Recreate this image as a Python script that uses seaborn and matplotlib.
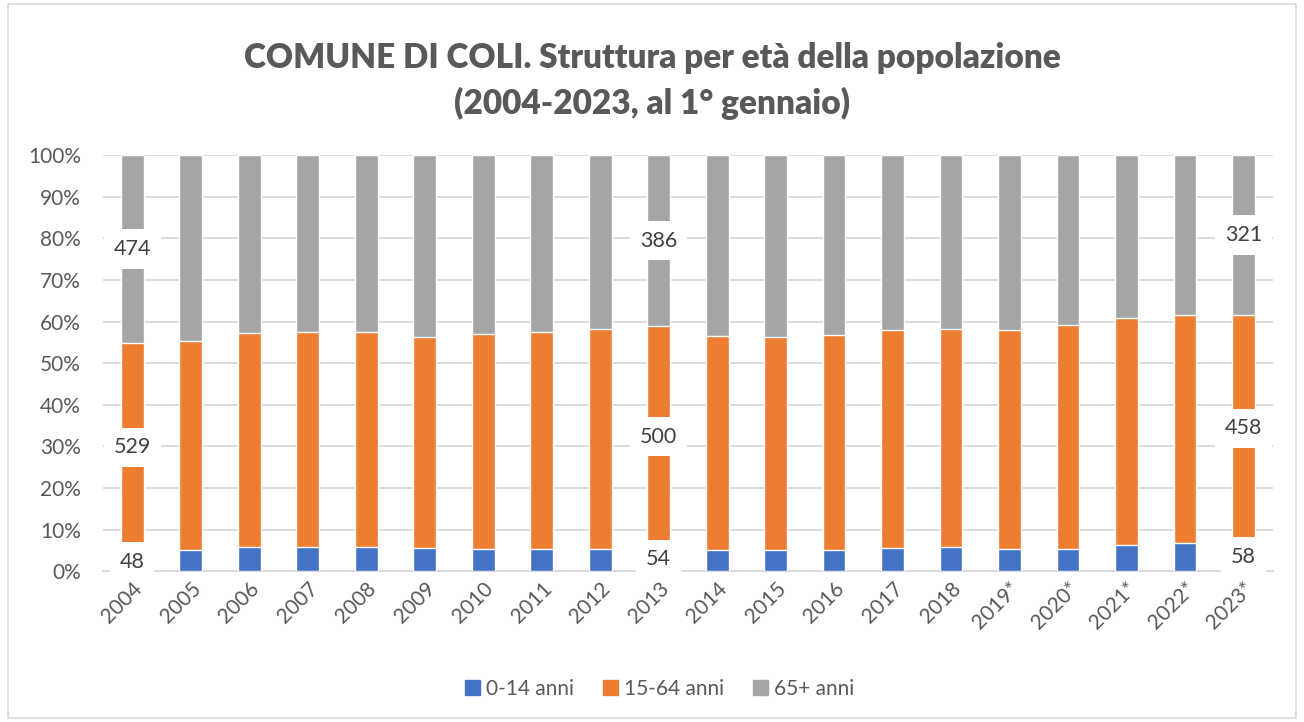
import matplotlib.pyplot as plt
import matplotlib.patches as mpatches
from matplotlib.ticker import PercentFormatter
import seaborn as sns
import pandas as pd

# dati: quota % per classe di eta (al 1 gennaio)
anni = ['2004', '2005', '2006', '2007', '2008', '2009', '2010', '2011', '2012', '2013',
        '2014', '2015', '2016', '2017', '2018', '2019*', '2020*', '2021*', '2022*', '2023*']
quota_0_14 = [4.6, 5.0, 5.7, 5.7, 5.9, 5.5, 5.4, 5.2, 5.4, 5.7,
              5.0, 5.0, 5.0, 5.5, 5.9, 5.2, 5.2, 6.2, 6.8, 6.9]
quota_15_64 = [50.3, 50.4, 51.6, 51.8, 51.6, 50.7, 51.7, 52.3, 52.9, 53.2,
               51.6, 51.3, 51.7, 52.5, 52.4, 52.8, 54.0, 54.6, 54.7, 54.8]
quota_65 = [45.1, 44.6, 42.7, 42.5, 42.5, 43.8, 42.9, 42.5, 41.7, 41.1,
            43.4, 43.7, 43.3, 42.0, 41.7, 42.0, 40.8, 39.2, 38.5, 38.3]
# valori assoluti mostrati sulle barre
anni_etichette = ['2004', '2013', '2023*']
val_0_14 = [48, 54, 58]
val_15_64 = [529, 500, 458]
val_65 = [474, 386, 321]

blu, arancio, grigio = '#4472C4', '#ED7D31', '#A5A5A5'

df = pd.DataFrame({'anno': anni, 'giovani': quota_0_14, 'adulti': quota_15_64, 'anziani': quota_65})
df['cum2'] = df['giovani'] + df['adulti']
df['cum3'] = df['cum2'] + df['anziani']

sns.set_style('white')
plt.rcParams['font.family'] = ['Lato', 'DejaVu Sans']

fig = plt.figure(figsize=(13.04, 7.22), dpi=100)
ax = fig.add_axes([0.079, 0.209, 0.897, 0.576])

# barre sovrapposte (totale, poi cumulata, poi base)
w = 0.39
sns.barplot(data=df, x='anno', y='cum3', color=grigio, width=w, saturation=1, ax=ax, zorder=2)
sns.barplot(data=df, x='anno', y='cum2', color=arancio, width=w, saturation=1, ax=ax, zorder=3)
sns.barplot(data=df, x='anno', y='giovani', color=blu, width=w, saturation=1, ax=ax, zorder=4)

ax.set_ylim(0, 100)
ax.set_xlim(-0.5, len(anni) - 0.5)
ax.set_yticks(range(0, 101, 10))
ax.yaxis.set_major_formatter(PercentFormatter(decimals=0))
ax.grid(axis='y', color='#D9D9D9', linewidth=1.3, zorder=0)
ax.set_axisbelow(True)
for s in ['top', 'right', 'left']:
    ax.spines[s].set_visible(False)
ax.spines['bottom'].set_color('#D9D9D9')
ax.spines['bottom'].set_linewidth(1.3)
ax.set_xlabel('')
ax.set_ylabel('')
ax.tick_params(axis='y', labelsize=15, colors='#595959', length=0, pad=16)
ax.tick_params(axis='x', labelsize=15, colors='#595959', length=0, pad=5)
plt.setp(ax.get_xticklabels(), rotation=45, ha='right', rotation_mode='anchor')

# etichette con sfondo bianco
for i, a in enumerate(anni_etichette):
    k = anni.index(a)
    g, ad = df.loc[k, 'giovani'], df.loc[k, 'adulti']
    for val, y in [(val_0_14[i], g / 2), (val_15_64[i], g + ad / 2), (val_65[i], g + ad + df.loc[k, 'anziani'] / 2)]:
        ax.text(k, y, str(val), ha='center', va='center', fontsize=15.5, color='#404040', zorder=10,
                bbox=dict(boxstyle='square,pad=0.45', fc='white', ec='none'))

fig.text(0.5, 0.919, 'COMUNE DI COLI. Struttura per età della popolazione', ha='center', va='center',
         fontsize=24, fontweight='heavy', color='#595959')
fig.text(0.5, 0.857, '(2004-2023, al 1° gennaio)', ha='center', va='center',
         fontsize=24, fontweight='heavy', color='#595959')

handles = [mpatches.Patch(color=blu, label='0-14 anni'),
           mpatches.Patch(color=arancio, label='15-64 anni'),
           mpatches.Patch(color=grigio, label='65+ anni')]
fig.legend(handles=handles, loc='center', bbox_to_anchor=(0.506, 0.046), ncol=3, frameon=False,
           fontsize=15, labelcolor='#595959', handlelength=0.7, handleheight=0.7,
           handletextpad=0.3, columnspacing=1.4)

fig.patches.append(mpatches.Rectangle((0.006, 0.006), 0.988, 0.988, transform=fig.transFigure,
                                      fill=False, ec='#D9D9D9', lw=1.2))

fig.savefig('out.png', dpi=100)
